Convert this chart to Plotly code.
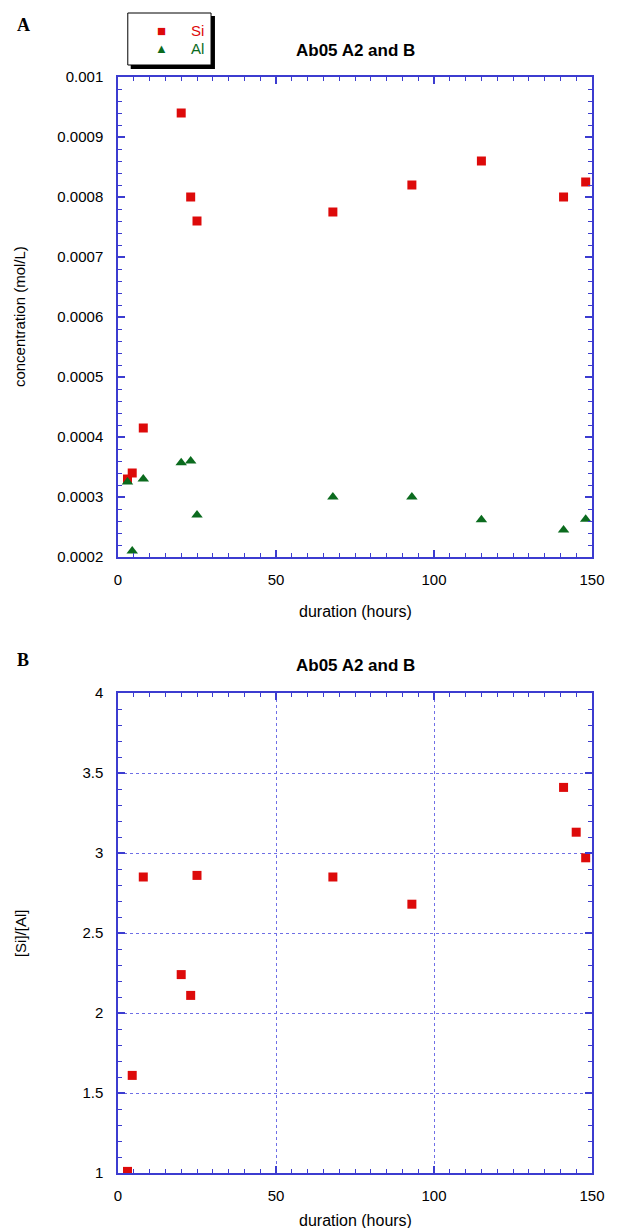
import plotly.graph_objects as go

# ---------------- data ----------------
hours_a = [3, 4.5, 8, 20, 23, 25, 68, 93, 115, 141, 148]
si_conc = [0.00033, 0.00034, 0.000415, 0.00094, 0.0008, 0.00076, 0.000775, 0.00082, 0.00086, 0.0008, 0.000825]
al_conc = [0.000325, 0.00021, 0.00033, 0.000357, 0.00036, 0.00027, 0.0003, 0.0003, 0.000262, 0.000245, 0.000263]

hours_b = [3, 4.5, 8, 20, 23, 25, 68, 93, 141, 145, 148]
si_al_ratio = [1.01, 1.61, 2.85, 2.24, 2.11, 2.86, 2.85, 2.68, 3.41, 3.13, 2.97]

x_ticks = [0, 50, 100, 150]
x_ticktext = ["0", "50", "100", "150"]
ya_ticks = [0.0002, 0.0003, 0.0004, 0.0005, 0.0006, 0.0007, 0.0008, 0.0009, 0.001]
ya_ticktext = ["0.0002", "0.0003", "0.0004", "0.0005", "0.0006", "0.0007", "0.0008", "0.0009", "0.001"]
yb_ticks = [1, 1.5, 2, 2.5, 3, 3.5, 4]
yb_ticktext = ["1", "1.5", "2", "2.5", "3", "3.5", "4"]

title_text = "Ab05 A2 and B"
x_title = "duration (hours)"
ya_title = "concentration (mol/L)"
yb_title = "[Si]/[Al]"
legend_names = ["Si", "Al"]

# ---------------- geometry helpers (pixel -> paper) ----------------
W, H = 617, 1228
L, R, T, B = 118, 602, 77, 1173
PW, PH = R - L, B - T


def px(x):
    return (x - L) / PW


def py(y):
    return (B - y) / PH


RED = "#dd0a0a"
GREEN = "#0b6b1e"
AXC = "#3c3cd0"
GRIDC = "#6f6fe6"
SANS = "Liberation Sans, Arial, sans-serif"

fig = go.Figure()

fig.add_trace(go.Scatter(x=hours_a, y=si_conc, mode="markers", name=legend_names[0],
                         marker=dict(symbol="square", size=9, color=RED),
                         xaxis="x", yaxis="y", showlegend=False))
fig.add_trace(go.Scatter(x=hours_a, y=al_conc, mode="markers", name=legend_names[1],
                         marker=dict(symbol="triangle-up", size=10, color=GREEN),
                         xaxis="x", yaxis="y", showlegend=False))
fig.add_trace(go.Scatter(x=hours_b, y=si_al_ratio, mode="markers", name="[Si]/[Al]",
                         marker=dict(symbol="square", size=9, color=RED),
                         xaxis="x2", yaxis="y2", showlegend=False))

common = dict(showline=True, linecolor=AXC, linewidth=1.5, mirror="allticks",
              ticks="inside", ticklen=7, tickwidth=1.5, tickcolor=AXC,
              zeroline=False, tickmode="array",
              tickfont=dict(family=SANS, size=15, color="black"))

ya_dom = [py(557), 1.0]
yb_dom = [0.0, py(693)]

fig.update_layout(
    width=W, height=H,
    margin=dict(l=L, r=W - R, t=T, b=H - B),
    paper_bgcolor="white", plot_bgcolor="white",
    showlegend=False,
    xaxis=dict(common, domain=[0, 1], range=[0, 150], tickvals=x_ticks, ticktext=x_ticktext,
               showgrid=False, anchor="y", ticklabelstandoff=8,
               minor=dict(ticks="inside", ticklen=4, tickwidth=1.2, tickcolor=AXC, dtick=5, tick0=0, showgrid=False)),
    yaxis=dict(common, domain=ya_dom, range=[0.0002, 0.001], tickvals=ya_ticks, ticktext=ya_ticktext,
               showgrid=False, anchor="x", ticklabelstandoff=10,
               minor=dict(ticks="inside", ticklen=4, tickwidth=1.2, tickcolor=AXC, dtick=0.00002, tick0=0.0002, showgrid=False)),
    xaxis2=dict(common, domain=[0, 1], range=[0, 150], tickvals=x_ticks, ticktext=x_ticktext,
                showgrid=True, gridcolor=GRIDC, griddash="dot", gridwidth=1, anchor="y2", ticklabelstandoff=8,
                minor=dict(ticks="inside", ticklen=4, tickwidth=1.2, tickcolor=AXC, dtick=5, tick0=0, showgrid=False)),
    yaxis2=dict(common, domain=yb_dom, range=[1, 4], tickvals=yb_ticks, ticktext=yb_ticktext,
                showgrid=True, gridcolor=GRIDC, griddash="dot", gridwidth=1, anchor="x2", ticklabelstandoff=10,
                minor=dict(ticks="inside", ticklen=4, tickwidth=1.2, tickcolor=AXC, dtick=0.1, tick0=1, showgrid=False)),
)

ann = []
def add_text(text, x, y, size, bold=False, family=SANS, color="black", angle=0, xanchor="center"):
    t = f"<b>{text}</b>" if bold else text
    ann.append(dict(text=t, x=px(x), y=py(y), xref="paper", yref="paper", showarrow=False,
                    font=dict(family=family, size=size, color=color), textangle=angle,
                    xanchor=xanchor, yanchor="middle"))

# panel letters
add_text("A", 21, 25, 18, bold=True, family="Liberation Serif, Times New Roman, serif")
add_text("B", 21, 660, 18, bold=True, family="Liberation Serif, Times New Roman, serif")
# titles
add_text(title_text, 360, 50, 17, bold=True)
add_text(title_text, 360, 665, 17, bold=True)
# axis titles
add_text(x_title, 360, 611, 16)
add_text(x_title, 360, 1220, 16)
add_text(ya_title, 18, 317, 15, angle=-90)
add_text(yb_title, 18, 933, 15, angle=-90)

# legend (manual)
add_text("■", 162, 31, 15, color=RED)
add_text("▲", 162, 49, 13, color=GREEN)
add_text(legend_names[0], 190, 31, 15, color=RED, xanchor="left")
add_text(legend_names[1], 190, 49, 15, color=GREEN, xanchor="left")

fig.update_layout(annotations=ann)

shapes = [
    dict(type="rect", xref="paper", yref="paper", x0=px(131), x1=px(217), y0=py(69), y1=py(16),
         fillcolor="black", line=dict(width=0), layer="below"),
    dict(type="rect", xref="paper", yref="paper", x0=px(128), x1=px(213), y0=py(65), y1=py(13),
         fillcolor="white", line=dict(color="black", width=1), layer="below"),
]
fig.update_layout(shapes=shapes)

fig.write_html("out.html")
